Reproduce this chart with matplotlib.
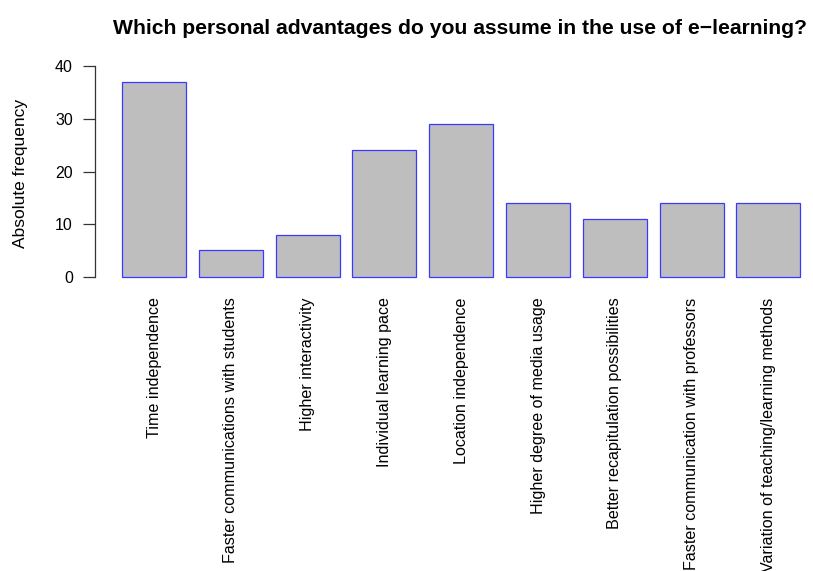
import matplotlib
matplotlib.use("Agg")
import matplotlib.pyplot as plt
import numpy as np

plt.rcParams['font.family'] = ['Liberation Sans', 'DejaVu Sans']

categories = ["Time independence",
              "Faster communications with students",
              "Higher interactivity",
              "Individual learning pace",
              "Location independence",
              "Higher degree of media usage",
              "Better recapitulation possibilities",
              "Faster communication with professors",
              "Variation of teaching/learning methods"]
counts = [37, 5, 8, 24, 29, 14, 11, 14, 14]
yticks = [0, 10, 20, 30, 40]

W, H = 813, 571
fig = plt.figure(figsize=(W / 100, H / 100), dpi=100)
# axes placed in pixels: left 95, right 810, top 58, bottom 285
ax = fig.add_axes([95 / W, 1 - 285 / H, (810 - 95) / W, (285 - 58) / H])

# R barplot style positions: width 1, space 0.2
x = 0.2 + np.arange(len(counts)) * 1.2 + 0.5
ax.bar(x, counts, width=1.0, color="#bebebe", edgecolor="#3a3aff", linewidth=0.9)

ax.set_xlim(0.2 - 27 / 64, 10.8 + 9.6 / 64)
ax.set_ylim(-1.6, 41.6)

for s in ["top", "right", "bottom"]:
    ax.spines[s].set_visible(False)
ax.spines["left"].set_bounds(0, 40)
ax.spines["left"].set_color("#333333")
ax.spines["left"].set_linewidth(0.9)

ax.set_yticks(yticks)
ax.set_yticklabels([str(v) for v in yticks], fontsize=11.5)
ax.tick_params(axis="y", length=8.5, width=0.9, color="#333333", pad=7.5)

ax.set_xticks(x)
ax.set_xticklabels(categories, rotation=90, fontsize=11.6, va="top", ha="center")
ax.tick_params(axis="x", length=0, pad=9)

fig.text(20 / W, 1 - 173 / H, "Absolute frequency", rotation=90,
         ha="center", va="center", fontsize=12.5)
fig.text(460 / W, 1 - 28 / H,
         "Which personal advantages do you assume in the use of e\u2212learning?",
         ha="center", va="center", fontsize=15.2, fontweight="bold")

fig.savefig("out.png", dpi=100, facecolor="white")
